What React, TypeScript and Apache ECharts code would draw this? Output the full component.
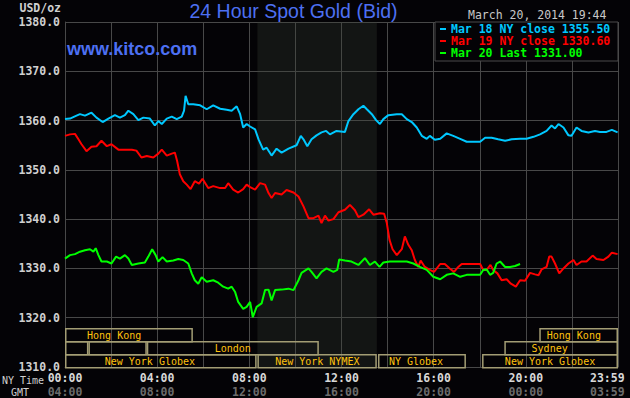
import React, { useEffect, useRef } from 'react';
import * as echarts from 'echarts';

// ---- data (time in minutes from 00:00 NY time, price in USD/oz) ----
const nyTimeLabels = ['00:00', '04:00', '08:00', '12:00', '16:00', '20:00', '23:59'];
const gmtLabels = ['04:00', '08:00', '12:00', '16:00', '20:00', '00:00', '03:59'];
const seriesNames = ['Mar 18 NY close 1355.50', 'Mar 19 NY close 1330.60', 'Mar 20 Last 1331.00'];
const seriesColors = ['#00c8ff', '#ff0000', '#00ff00'];

const mar18 = [
  [0, 1360.3], [13, 1360.4], [30, 1361.0], [39, 1361.3], [52, 1361.0], [69, 1361.6], [82, 1360.6], [98, 1359.7],
  [113, 1360.4], [130, 1361.1], [143, 1360.6], [156, 1361.1], [165, 1362.0], [178, 1361.3], [191, 1360.1], [204, 1360.6],
  [221, 1360.4], [234, 1359.0], [243, 1359.9], [252, 1359.3], [265, 1360.4], [278, 1360.8], [291, 1360.3], [304, 1360.8],
  [310, 1362.0], [314, 1365.0], [321, 1363.3], [334, 1363.3], [352, 1363.1], [369, 1362.3], [386, 1363.1], [404, 1362.4],
  [421, 1362.2], [434, 1362.0], [447, 1362.9], [456, 1361.3], [464, 1358.6], [473, 1359.3], [482, 1358.8], [495, 1358.2],
  [504, 1356.2], [516, 1354.1], [525, 1354.5], [538, 1352.9], [551, 1354.3], [564, 1353.5], [582, 1354.3], [603, 1355.0],
  [614, 1356.9], [621, 1356.2], [631, 1354.8], [642, 1356.2], [655, 1357.0], [668, 1357.6], [680, 1357.9], [690, 1357.2],
  [707, 1357.9], [729, 1357.7], [738, 1359.9], [751, 1361.3], [764, 1362.3], [777, 1363.0], [786, 1362.3], [799, 1361.3],
  [810, 1360.1], [820, 1359.3], [829, 1360.3], [842, 1361.1], [864, 1361.3], [877, 1361.3], [890, 1360.3], [903, 1359.7],
  [916, 1358.6], [929, 1356.9], [942, 1356.3], [950, 1356.9], [963, 1356.1], [977, 1356.3], [994, 1357.4], [1011, 1356.9],
  [1029, 1356.3], [1046, 1355.7], [1063, 1355.7], [1081, 1355.7], [1094, 1356.5], [1111, 1356.5], [1128, 1356.2], [1146, 1355.9],
  [1163, 1356.2], [1185, 1356.3], [1202, 1356.3], [1220, 1356.7], [1237, 1357.2], [1254, 1357.9], [1267, 1359.0], [1276, 1358.4],
  [1285, 1359.3], [1298, 1358.6], [1311, 1357.0], [1319, 1356.9], [1332, 1358.6], [1345, 1357.9], [1363, 1357.6], [1380, 1357.9],
  [1393, 1357.7], [1410, 1357.7], [1424, 1358.1], [1439, 1357.6],
];

const mar19 = [
  [0, 1356.9], [13, 1357.2], [26, 1357.3], [35, 1356.2], [43, 1355.2], [56, 1353.8], [69, 1354.7], [82, 1354.8],
  [95, 1355.9], [109, 1354.8], [121, 1355.2], [139, 1354.1], [156, 1354.1], [174, 1354.1], [186, 1353.9], [199, 1352.5],
  [213, 1352.8], [230, 1352.5], [243, 1353.3], [252, 1354.1], [265, 1352.9], [278, 1353.3], [286, 1353.5], [292, 1351.8],
  [299, 1349.1], [308, 1347.7], [317, 1347.0], [327, 1346.1], [338, 1347.7], [349, 1347.2], [358, 1348.2], [373, 1346.3],
  [386, 1346.7], [404, 1346.3], [417, 1346.3], [425, 1347.3], [438, 1346.0], [451, 1345.4], [464, 1346.1], [473, 1347.0],
  [482, 1346.5], [495, 1346.0], [508, 1347.3], [521, 1347.0], [530, 1345.3], [538, 1344.3], [547, 1345.3], [564, 1345.0],
  [577, 1345.9], [595, 1345.4], [608, 1344.6], [621, 1342.6], [634, 1340.2], [647, 1340.2], [660, 1340.7], [668, 1339.2],
  [677, 1340.7], [686, 1339.7], [699, 1340.0], [712, 1341.4], [729, 1341.9], [742, 1342.9], [755, 1341.8], [764, 1340.4],
  [777, 1340.9], [792, 1342.0], [803, 1340.9], [820, 1341.2], [831, 1341.1], [838, 1339.2], [845, 1335.8], [853, 1333.9],
  [864, 1332.7], [877, 1333.9], [885, 1336.5], [894, 1334.8], [903, 1333.7], [911, 1331.7], [920, 1330.3], [926, 1331.6],
  [937, 1330.3], [950, 1329.7], [961, 1329.3], [977, 1330.9], [989, 1330.9], [1002, 1330.0], [1013, 1329.3], [1024, 1330.3],
  [1033, 1330.9], [1055, 1330.9], [1081, 1330.9], [1089, 1329.7], [1098, 1329.7], [1108, 1330.7], [1115, 1329.7], [1126, 1329.0],
  [1137, 1327.6], [1150, 1327.8], [1161, 1326.9], [1174, 1326.3], [1185, 1327.6], [1198, 1327.5], [1211, 1329.1], [1224, 1328.8],
  [1233, 1328.6], [1241, 1329.8], [1254, 1330.3], [1261, 1332.4], [1267, 1332.4], [1276, 1331.0], [1287, 1329.0], [1298, 1330.0],
  [1311, 1331.0], [1324, 1331.7], [1332, 1330.7], [1345, 1331.4], [1358, 1331.4], [1374, 1332.6], [1384, 1331.9], [1402, 1331.7],
  [1415, 1332.4], [1424, 1333.2], [1439, 1332.9],
];

const mar20 = [
  [0, 1332.0], [13, 1332.7], [26, 1332.9], [39, 1333.4], [52, 1333.7], [65, 1333.9], [74, 1333.4], [80, 1334.1],
  [87, 1332.7], [95, 1331.4], [109, 1331.4], [121, 1331.0], [133, 1332.4], [143, 1332.0], [156, 1332.7], [165, 1332.0],
  [174, 1330.7], [191, 1331.0], [208, 1331.2], [217, 1332.4], [227, 1333.9], [236, 1332.7], [243, 1331.4], [254, 1332.3],
  [265, 1331.4], [282, 1331.6], [295, 1331.9], [308, 1331.7], [321, 1331.0], [330, 1329.0], [338, 1327.6], [347, 1326.9],
  [356, 1328.2], [369, 1327.3], [386, 1327.6], [399, 1327.1], [412, 1326.3], [425, 1325.9], [434, 1326.3], [443, 1325.2],
  [451, 1323.2], [464, 1321.8], [473, 1322.2], [482, 1323.2], [489, 1320.1], [499, 1322.2], [512, 1322.9], [521, 1325.6],
  [530, 1325.7], [538, 1323.5], [547, 1325.6], [564, 1325.7], [582, 1325.9], [595, 1325.6], [608, 1327.6], [616, 1329.1],
  [634, 1330.0], [642, 1329.3], [655, 1328.0], [668, 1329.3], [681, 1330.0], [699, 1329.3], [709, 1329.7], [714, 1331.8],
  [729, 1331.6], [746, 1331.4], [764, 1330.7], [781, 1332.1], [794, 1330.7], [807, 1331.4], [819, 1330.3], [829, 1331.2],
  [846, 1331.4], [868, 1331.4], [890, 1331.4], [907, 1331.0], [924, 1330.3], [942, 1329.7], [959, 1328.3], [977, 1327.8],
  [994, 1328.7], [1011, 1329.0], [1029, 1328.3], [1046, 1328.7], [1081, 1328.7], [1089, 1329.7], [1098, 1329.8], [1107, 1328.7],
  [1115, 1329.1], [1124, 1331.0], [1133, 1331.4], [1146, 1330.3], [1159, 1330.3], [1172, 1330.5], [1185, 1330.9],
];

// trading sessions: start min, end min, row (0 = top), label anchor min, name
const sessionStarts = [0, 1235, 0, 61, 213, 1144, 0, 501, 815, 1086];
const sessionEnds = [333, 1440, 61, 213, 661, 1440, 499, 812, 1044, 1440];
const sessionRows = [0, 0, 1, 1, 1, 1, 2, 2, 2, 2];
const sessionLabelAt = [128, 1325, 30, 137, 437, 1262, 221, 657, 914, 1263];
const sessionNames = ['Hong Kong', 'Hong Kong', '', '', 'London', 'Sydney', 'New York Globex', 'New York NYMEX', 'NY Globex', 'New York Globex'];
const nymexWindow = [501, 812];

const BG = '#040306';
const MONO = '"DejaVu Sans Mono", "Liberation Mono", monospace';
const SANS = '"Liberation Sans", Arial, sans-serif';

export default function App() {
  const ref = useRef<HTMLDivElement>(null);

  useEffect(() => {
    if (!ref.current) return;
    const chart = echarts.init(ref.current, undefined, { renderer: 'svg' });

    const sessionData = sessionStarts.map((s, i) => [s, sessionEnds[i], sessionRows[i], sessionLabelAt[i]]);

    const lastRich = (color: string) => ({
      last: { width: 56, align: 'left', color, fontFamily: MONO, fontSize: 11.5, fontWeight: 'bold' },
    });

    const option: any = {
      animation: false,
      backgroundColor: BG,
      color: seriesColors,
      grid: { left: 65, right: 12, top: 22, bottom: 31 },
      legend: {
        left: 440,
        top: 23,
        orient: 'vertical',
        itemGap: 0,
        itemWidth: 6,
        itemHeight: 2,
        padding: 0,
        icon: 'rect',
        selectedMode: false,
        z: 5,
        textStyle: { fontFamily: MONO, fontSize: 11.5, fontWeight: 'bold', lineHeight: 12 },
        data: seriesNames.map((n, i) => ({ name: n, textStyle: { color: seriesColors[i] } })),
      },
      xAxis: [
        {
          type: 'value',
          min: 0,
          max: 1440,
          interval: 120,
          axisLine: { show: true, lineStyle: { color: '#484848', width: 1 } },
          axisTick: { show: false },
          splitLine: { show: true, lineStyle: { color: '#484848', width: 1 } },
          axisLabel: {
            show: true,
            margin: 5,
            color: '#d8d8d8',
            fontFamily: MONO,
            fontSize: 11.5,
            fontWeight: 'bold',
            showMaxLabel: true,
            formatter: (v: number) => {
              if (v % 240 !== 0) return '';
              const idx = v / 240;
              if (idx === nyTimeLabels.length - 1) return '{last|' + nyTimeLabels[idx] + '}';
              return nyTimeLabels[idx];
            },
            rich: lastRich('#d8d8d8'),
          },
        },
        {
          type: 'value',
          position: 'bottom',
          offset: 14,
          min: 0,
          max: 1440,
          interval: 120,
          axisLine: { show: false },
          axisTick: { show: false },
          splitLine: { show: false },
          axisLabel: {
            show: true,
            margin: 5,
            color: '#6c6c6c',
            fontFamily: MONO,
            fontSize: 11.5,
            fontWeight: 'bold',
            showMaxLabel: true,
            formatter: (v: number) => {
              if (v % 240 !== 0) return '';
              const idx = v / 240;
              if (idx === gmtLabels.length - 1) return '{last|' + gmtLabels[idx] + '}';
              return gmtLabels[idx];
            },
            rich: lastRich('#6c6c6c'),
          },
        },
      ],
      yAxis: {
        type: 'value',
        min: 1310,
        max: 1380,
        interval: 10,
        axisLine: { show: true, lineStyle: { color: '#484848', width: 1 } },
        axisTick: { show: false },
        splitLine: { show: true, lineStyle: { color: '#484848', width: 1 } },
        axisLabel: {
          margin: 5,
          color: '#d0d0d0',
          fontFamily: MONO,
          fontSize: 11.5,
          fontWeight: 'bold',
          formatter: (v: number) => v.toFixed(1),
        },
      },
      series: [
        {
          type: 'custom',
          name: 'sessions',
          xAxisIndex: 0,
          yAxisIndex: 0,
          z: 1,
          silent: true,
          data: sessionData,
          renderItem: (params: any, api: any) => {
            const i = params.dataIndex;
            const p1 = api.coord([api.value(0), 1310]);
            const p2 = api.coord([api.value(1), 1310]);
            const row = api.value(2);
            const rowH = 13;
            const top = p1[1] - (3 - row) * rowH;
            const lx = api.coord([api.value(3), 1310])[0];
            return {
              type: 'group',
              children: [
                {
                  type: 'rect',
                  shape: { x: p1[0] + 0.75, y: top + 0.75, width: p2[0] - p1[0] - 1.5, height: rowH },
                  style: { fill: 'none', stroke: '#a39d74', lineWidth: 1.5 },
                },
                {
                  type: 'text',
                  x: lx,
                  y: top + rowH / 2 + 1,
                  style: {
                    text: sessionNames[i],
                    fill: '#ffc20e',
                    font: '10px ' + MONO,
                    align: 'center',
                    verticalAlign: 'middle',
                  },
                },
              ],
            };
          },
          markArea: {
            silent: true,
            z: 0,
            itemStyle: { color: 'rgba(58,66,56,0.29)' },
            label: { show: false },
            data: [[{ xAxis: nymexWindow[0] }, { xAxis: nymexWindow[1] }]],
          },
        },
        {
          type: 'line',
          name: seriesNames[0],
          data: mar18,
          showSymbol: false,
          symbol: 'none',
          z: 3,
          lineStyle: { color: seriesColors[0], width: 2 },
          itemStyle: { color: seriesColors[0] },
        },
        {
          type: 'line',
          name: seriesNames[1],
          data: mar19,
          showSymbol: false,
          symbol: 'none',
          z: 3,
          lineStyle: { color: seriesColors[1], width: 2 },
          itemStyle: { color: seriesColors[1] },
        },
        {
          type: 'line',
          name: seriesNames[2],
          data: mar20,
          showSymbol: false,
          symbol: 'none',
          z: 3,
          lineStyle: { color: seriesColors[2], width: 2 },
          itemStyle: { color: seriesColors[2] },
        },
      ],
      graphic: [
        {
          type: 'rect',
          z: 4,
          shape: { x: 435, y: 22, width: 183, height: 39 },
          style: { fill: BG, stroke: '#4a4a4a', lineWidth: 1 },
        },
        {
          type: 'text',
          x: 293.5,
          y: 10.5,
          style: { text: '24 Hour Spot Gold (Bid)', fill: '#4d70f2', font: '19.5px ' + SANS, align: 'center', verticalAlign: 'middle' },
        },
        {
          type: 'text',
          x: 67,
          y: 48.8,
          z: 4,
          style: { text: 'www.kitco.com', fill: '#4d70f2', font: 'bold 18px ' + SANS, align: 'left', verticalAlign: 'middle' },
        },
        {
          type: 'text',
          x: 468,
          y: 15,
          style: { text: 'March 20, 2014 19:44', fill: '#c8c8c8', font: '11.5px ' + MONO, align: 'left', verticalAlign: 'middle' },
        },
        {
          type: 'text',
          x: 61,
          y: 8,
          style: { text: 'USD/oz', fill: '#d0d0d0', font: 'bold 11.5px ' + MONO, align: 'right', verticalAlign: 'middle' },
        },
        {
          type: 'text',
          x: 2,
          y: 380,
          style: { text: 'NY Time', fill: '#d0d0d0', font: '10px ' + MONO, align: 'left', verticalAlign: 'middle' },
        },
        {
          type: 'text',
          x: 11,
          y: 392,
          style: { text: 'GMT', fill: '#d0d0d0', font: '10px ' + MONO, align: 'left', verticalAlign: 'middle' },
        },
      ],
    };

    chart.setOption(option);
    return () => chart.dispose();
  }, []);

  return (
    <div
      ref={ref}
      style={{ position: 'fixed', left: 0, top: 0, width: 630, height: 398, background: BG }}
    />
  );
}
